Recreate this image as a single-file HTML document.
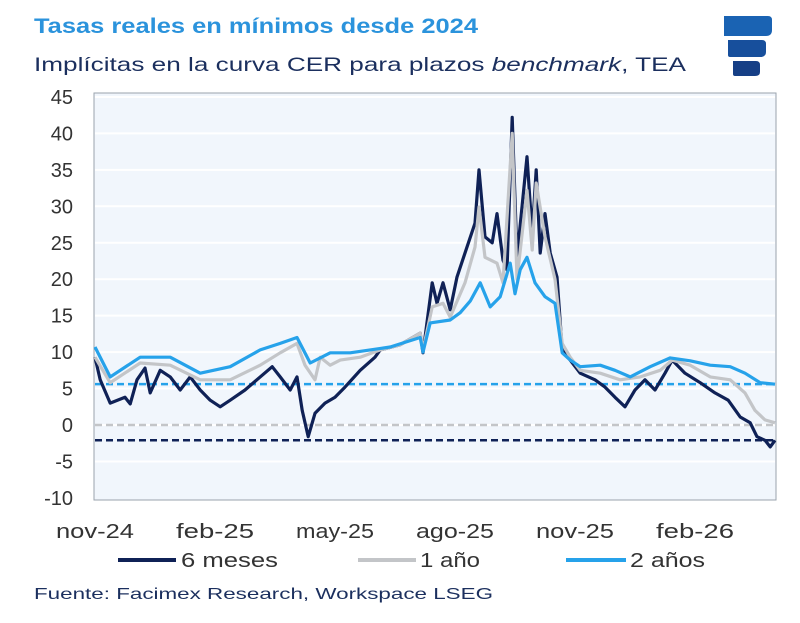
<!DOCTYPE html>
<html><head><meta charset="utf-8">
<style>
body{margin:0;background:#fff;width:800px;height:618px;overflow:hidden;font-family:"Liberation Sans",sans-serif}
svg text{font-family:"Liberation Sans",sans-serif}
</style></head>
<body>
<svg id="chart" width="800" height="618" viewBox="0 0 800 618">
<text x="34" y="33" font-size="21" font-weight="bold" fill="#2b93dc" textLength="444" lengthAdjust="spacingAndGlyphs">Tasas reales en mínimos desde 2024</text>
<text x="34" y="71" font-size="19.5" fill="#1b2f5e" textLength="652" lengthAdjust="spacingAndGlyphs">Implícitas en la curva CER para plazos <tspan font-style="italic">benchmark</tspan>, TEA</text>
<g>
<path d="M724 16 H768 Q772 16 772 20 V30 Q772 36 766 36 H724 Z" fill="#1a63b3"/>
<path d="M728 40 H762 Q766 40 766 44 V52 Q766 57 760 57 H730 Q728 57 728 55 Z" fill="#174f9c"/>
<path d="M733 61 H756 Q760 61 760 65 V72 Q760 76 755 76 H735 Q733 76 733 74 Z" fill="#163f86"/>
</g>
<rect x="94" y="93" width="682" height="407" fill="#f1f6fc" stroke="#9aa3ad" stroke-width="1"/>
<g id="grid"></g><g id="yt"></g><g id="xt"></g><g id="refs"></g><g id="lines"></g>
<g>
<line x1="118" y1="560" x2="176" y2="560" stroke="#0f2156" stroke-width="4"/>
<text x="181" y="567" font-size="20" fill="#333" textLength="97" lengthAdjust="spacingAndGlyphs">6 meses</text>
<line x1="358" y1="560" x2="416" y2="560" stroke="#c3c5c8" stroke-width="4"/>
<text x="420" y="567" font-size="20" fill="#333" textLength="60" lengthAdjust="spacingAndGlyphs">1 año</text>
<line x1="566" y1="560" x2="626" y2="560" stroke="#26a2ea" stroke-width="4"/>
<text x="630" y="567" font-size="20" fill="#333" textLength="75" lengthAdjust="spacingAndGlyphs">2 años</text>
</g>
<text x="34" y="599" font-size="16" fill="#1b2f5e" textLength="459" lengthAdjust="spacingAndGlyphs">Fuente: Facimex Research, Workspace LSEG</text>
</svg>
<script>
const yTicks=[45,40,35,30,25,20,15,10,5,0,-5,-10];
const xLabels=["nov-24","feb-25","may-25","ago-25","nov-25","feb-26"];
const xLabelMonths=[0,3,6,9,12,15];
const t2=[0,.38,1.13,1.88,2.63,3.38,4.13,4.63,5.05,5.38,5.88,6.38,6.88,7.38,8.13,8.2,8.38,8.88,9.13,9.38,9.63,9.88,10.13,10.38,10.5,10.63,10.8,11,11.25,11.5,11.68,11.88,12.13,12.63,13,13.38,13.88,14.38,14.88,15.38,15.88,16.25,16.63,17];
const v2=[10.7,6.6,9.3,9.3,7.1,8,10.3,11.2,12,8.5,9.9,9.9,10.3,10.7,12,10,14,14.4,15.4,17,19.5,16.2,17.6,22.2,18,21.3,23,19.5,17.6,16.7,9.9,8.9,8,8.2,7.5,6.6,8,9.2,8.8,8.2,8,7.1,5.8,5.6];
const t6=[0,.13,.38,.75,.88,1.05,1.25,1.38,1.63,1.88,2.13,2.38,2.63,2.88,3.13,3.38,3.75,4.13,4.43,4.63,4.88,5.05,5.18,5.33,5.5,5.75,6,6.25,6.63,7,7.13,7.63,8.13,8.2,8.43,8.55,8.7,8.88,9.05,9.25,9.5,9.6,9.75,9.93,10.05,10.2,10.3,10.43,10.55,10.8,10.93,11.03,11.13,11.25,11.38,11.55,11.68,11.88,12.13,12.5,12.75,13,13.25,13.5,13.75,14,14.25,14.43,14.75,15.13,15.5,15.83,16.13,16.38,16.55,16.75,16.88,17];
const v6=[9.3,6.2,3,3.8,2.9,6.2,7.8,4.4,7.5,6.6,4.8,6.6,4.8,3.4,2.5,3.4,4.8,6.6,8,6.6,4.8,6.6,2,-1.6,1.6,3,3.8,5.2,7.5,9.3,10.3,11,12.6,9.9,19.5,16.7,19.5,15.8,20.3,23.6,27.7,35,25.8,25,29,22.6,21.3,42.2,23,36.8,26.3,35,23.6,29,23.6,20.3,10.3,8.9,7.1,6.2,5.2,3.8,2.5,4.8,6.2,4.8,7.1,8.9,7.1,5.8,4.4,3.4,1.1,0.3,-1.6,-2.1,-3,-2.1];
const t1=[0,.38,1.13,1.88,2.63,3.38,4.13,4.63,5.05,5.25,5.5,5.63,5.88,6.13,6.63,7.13,7.63,8.13,8.2,8.43,8.7,8.88,9.25,9.5,9.6,9.75,10.05,10.2,10.43,10.55,10.8,10.93,11.03,11.25,11.5,11.68,11.88,12.13,12.63,13.13,13.63,14.13,14.43,14.88,15.38,15.88,16.25,16.5,16.75,17];
const v1=[9.3,5.8,8.5,8.2,6.2,6.2,8.2,9.9,11.2,8.2,6.2,9.3,8.2,8.9,9.3,10.3,11,12.6,10.3,16.2,16.7,14.8,19.5,24.4,29.9,23,22.2,19.5,40,20,32.2,24,33.2,25.8,20,11.2,9.3,7.5,7.1,6.2,6.6,7.5,8.9,8.2,6.6,6.2,4.4,2,0.7,0.3];
const refVals=[5.6,0,-2.1];
const ns="http://www.w3.org/2000/svg";
const X0=95,PX=40,Y0=425,PY=7.29;
function xs(t){return X0+t*PX;}
function ys(v){return Y0-v*PY;}
function mk(tag,attrs,parent){const e=document.createElementNS(ns,tag);for(const k in attrs)e.setAttribute(k,attrs[k]);parent.appendChild(e);return e;}
const grid=document.getElementById('grid'),yt=document.getElementById('yt'),xt=document.getElementById('xt'),refs=document.getElementById('refs'),lines=document.getElementById('lines');
yTicks.forEach(v=>{
 if(v>-10){const g=mk('line',{x1:95,x2:775,y1:ys(v),y2:ys(v),stroke:'#ffffff','stroke-width':2},grid);
 
 }
 const t=mk('text',{x:73,y:ys(v)+7,'font-size':20,fill:'#333','text-anchor':'end'},yt);t.textContent=v;
 
 
});
xLabels.forEach((l,i)=>{
 const t=mk('text',{x:xs(xLabelMonths[i])-39,y:538,'font-size':20,fill:'#333',textLength:78,lengthAdjust:'spacingAndGlyphs'},xt);t.textContent=l;
 
 
});
const refCols=['#26a2ea','#c3c5c8','#0f2156'];
refVals.forEach((v,i)=>{
 const l=mk('line',{x1:95,x2:775,y1:ys(v),y2:ys(v),stroke:refCols[i],'stroke-width':2.5,'stroke-dasharray':'7 4'},refs);
 
 
});
function series(t,v,col,name){
 const d=t.map((tt,i)=>(i?'L':'M')+xs(tt).toFixed(1)+' '+ys(v[i]).toFixed(1)).join(' ');
 const p=mk('path',{d:d,fill:'none',stroke:col,'stroke-width':3.2,'stroke-linejoin':'round'},lines);
 
 
}
series(t6,v6,'#0f2156','series-6-meses');
series(t1,v1,'#c3c5c8','series-1-ano');
series(t2,v2,'#26a2ea','series-2-anos');
</script>
</body></html>
